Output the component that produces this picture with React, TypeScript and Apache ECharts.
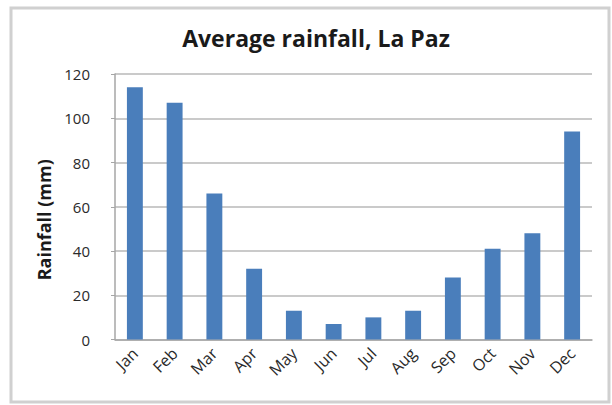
import React, { useEffect, useRef } from "react";
import * as echarts from "echarts";

const months = ["Jan", "Feb", "Mar", "Apr", "May", "Jun", "Jul", "Aug", "Sep", "Oct", "Nov", "Dec"];
const rainfall = [114, 107, 66, 32, 13, 7, 10, 13, 28, 41, 48, 94];
const yTicks = [0, 20, 40, 60, 80, 100, 120];

export default function App() {
  const ref = useRef<HTMLDivElement>(null);
  useEffect(() => {
    if (!ref.current) return;
    const chart = echarts.init(ref.current, null, { renderer: "svg" });
    chart.setOption({
      animation: false,
      backgroundColor: "#ffffff",
      title: {
        text: "Average rainfall, La Paz",
        left: 311,
        top: 21,
        textAlign: "center",
        textStyle: { fontFamily: "Open Sans", fontWeight: "bold", fontSize: 23, color: "#1a1a1a" },
      },
      graphic: [
        {
          type: "rect",
          shape: { x: 11, y: 8, width: 598, height: 394 },
          style: { fill: "none", stroke: "#d0d0d0", lineWidth: 3 },
          silent: true,
        },
      ],
      grid: { left: 115, right: 20, top: 74, bottom: 65.5 },
      xAxis: {
        type: "category",
        data: months,
        axisLine: { show: true, lineStyle: { color: "#a6a6a6", width: 1.5 } },
        axisTick: { show: false },
        axisLabel: {
          rotate: 45,
          interval: 0,
          margin: 11,
          fontFamily: "Open Sans",
          fontSize: 16,
          color: "#2a2a2a",
        },
      },
      yAxis: {
        type: "value",
        min: yTicks[0],
        max: yTicks[yTicks.length - 1],
        interval: 20,
        name: "Rainfall (mm)",
        nameLocation: "middle",
        nameGap: 62,
        nameRotate: 90,
        nameTextStyle: { fontFamily: "Open Sans", fontWeight: "bold", fontSize: 18, color: "#1a1a1a", padding: [0, 0, 0, -26] },
        axisLine: { show: true, lineStyle: { color: "#a6a6a6", width: 1.5 } },
        axisTick: { show: true, length: 4, lineStyle: { color: "#a6a6a6" } },
        axisLabel: { fontFamily: "Open Sans", fontSize: 15, color: "#2a2a2a", margin: 25 },
        splitLine: { show: true, lineStyle: { color: "#b8b8b8", width: 1.5 } },
      },
      series: [
        {
          type: "bar",
          data: rainfall,
          barWidth: "40%",
          itemStyle: { color: "#4a7ebb" },
        },
      ],
    });
    return () => chart.dispose();
  }, []);
  return <div ref={ref} style={{ position: "fixed", left: 0, top: 0, width: 612, height: 405 }} />;
}
